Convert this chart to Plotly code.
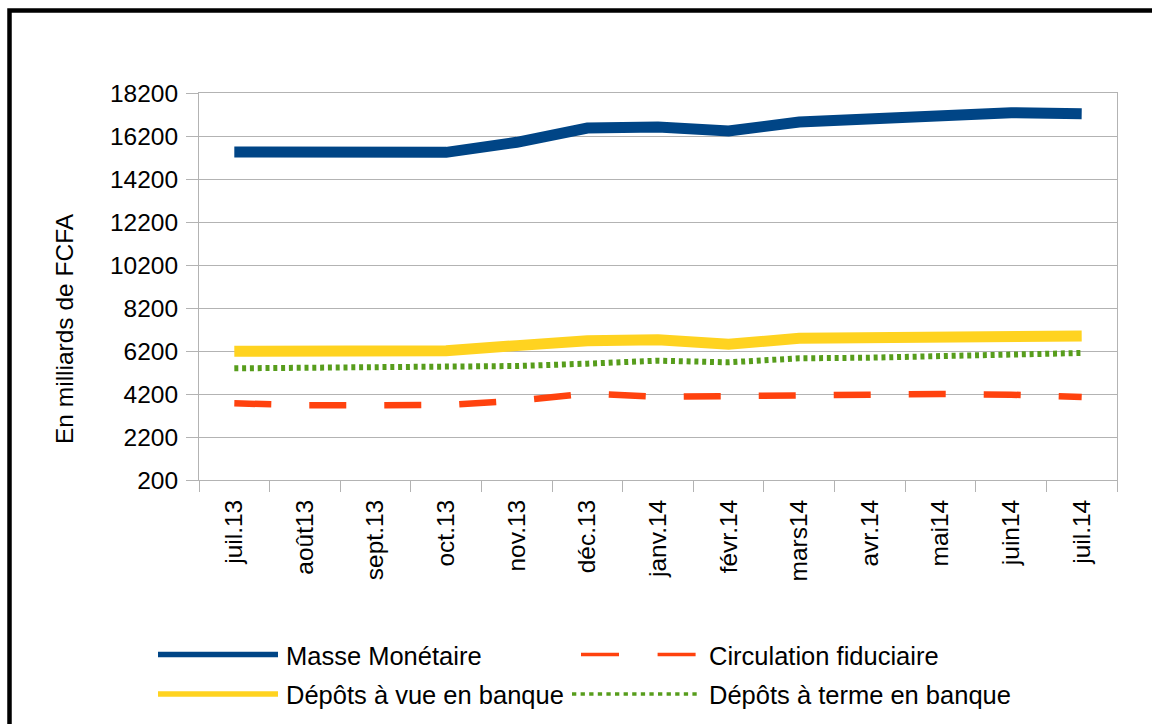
import plotly.graph_objects as go

months = ["juil.13", "août13", "sept.13", "oct.13", "nov.13", "déc.13", "janv.14",
          "févr.14", "mars14", "avr.14", "mai14", "juin14", "juil.14"]
masse_monetaire = [15456, 15425, 15440, 15440, 15906, 16572, 16619, 16433, 16851, 17022, 17192, 17285, 17239]
circulation_fiduciaire = [3767, 3673, 3673, 3690, 3890, 4216, 4070, 4123, 4130, 4170, 4200, 4170, 4061]
depots_vue = [6184, 6200, 6215, 6215, 6450, 6680, 6720, 6510, 6789, 6835, 6851, 6897, 6897]
depots_terme = [5394, 5410, 5425, 5440, 5502, 5611, 5750, 5673, 5859, 5890, 5967, 6045, 6107]
y_ticks = list(range(200, 18201, 2000))

BLUE = "#004586"
RED = "#ff420e"
YELLOW = "#ffd320"
GREEN = "#579d1c"
GRID = "#b3b3b3"
FONT = "Liberation Sans"
FS = 24.5
FS_LEG = 25.5

W, H = 1152, 724
L, R, T, B = 199, 35, 93, 244
PW = W - L - R
PH = H - T - B


def px(x):
    return (x - L) / PW


def py(y):
    return (H - B - y) / PH


fig = go.Figure()
fig.add_trace(go.Scatter(x=months, y=depots_vue, mode="lines",
                         line=dict(color=YELLOW, width=11), name="Dépôts à vue en banque"))
fig.add_trace(go.Scatter(x=months, y=depots_terme, mode="lines",
                         line=dict(color=GREEN, width=6, dash="4px,3.8px"), name="Dépôts à terme en banque"))
fig.add_trace(go.Scatter(x=months, y=circulation_fiduciaire, mode="lines",
                         line=dict(color=RED, width=6.5, dash="37px,38px"), name="Circulation fiduciaire"))
fig.add_trace(go.Scatter(x=months, y=masse_monetaire, mode="lines",
                         line=dict(color=BLUE, width=11), name="Masse Monétaire"))

shapes = []
annotations = []

# outer frame (top & left visible)
shapes.append(dict(type="path", xref="paper", yref="paper",
                   path=f"M {px(9.5)} {py(745)} L {px(9.5)} {py(10.5)} L {px(1175)} {py(10.5)}",
                   line=dict(color="black", width=4.5)))

# legend
legend_items = [
    ("Masse Monétaire", BLUE, 5.7, "solid", 158, 278, 284, 654.5),
    ("Circulation fiduciaire", RED, 3.7, "38px,38.6px", 581, 696, 706.5, 654.5),
    ("Dépôts à vue en banque", YELLOW, 5.7, "solid", 158, 278, 284, 694),
    ("Dépôts à terme en banque", GREEN, 3.3, "4.3px,4.3px", 572, 701, 706.5, 694),
]
for text, color, width, dash, x0, x1, tx, yy in legend_items:
    shapes.append(dict(type="line", xref="paper", yref="paper",
                       x0=px(x0), x1=px(x1), y0=py(yy), y1=py(yy),
                       line=dict(color=color, width=width, dash=dash)))
    annotations.append(dict(text=text, xref="paper", yref="paper", x=px(tx), y=py(yy + 1),
                            xanchor="left", yanchor="middle", showarrow=False,
                            font=dict(family=FONT, size=FS_LEG, color="black")))

# y-axis title
annotations.append(dict(text="En milliards de FCFA", xref="paper", yref="paper",
                        x=px(64), y=py(329), xanchor="center", yanchor="middle",
                        textangle=-90, showarrow=False,
                        font=dict(family=FONT, size=FS, color="black")))

fig.update_layout(
    width=W, height=H,
    margin=dict(l=L, r=R, t=T, b=B, pad=0),
    paper_bgcolor="white", plot_bgcolor="white",
    showlegend=False,
    font=dict(family=FONT, size=FS, color="black"),
    shapes=shapes, annotations=annotations,
)
fig.update_xaxes(type="category", range=[-0.5, 12.5], tickson="boundaries",
                 ticks="outside", ticklen=11, tickcolor=GRID, tickwidth=1,
                 showgrid=False, showline=True, linecolor=GRID, linewidth=1, mirror=True,
                 tickangle=-90, tickfont=dict(family=FONT, size=FS, color="black"),
                 ticklabelstandoff=9, fixedrange=True)
fig.update_yaxes(range=[200, 18200], tickvals=y_ticks, ticktext=[str(v) for v in y_ticks],
                 ticks="outside", ticklen=12, tickcolor=GRID, tickwidth=1,
                 showgrid=True, gridcolor=GRID, gridwidth=1, zeroline=False,
                 showline=True, linecolor=GRID, linewidth=1, mirror=True,
                 tickfont=dict(family=FONT, size=FS, color="black"),
                 ticklabelstandoff=3, fixedrange=True)

fig.write_html("out.html", config={"displayModeBar": False},
               post_script="document.body.style.margin='0';document.body.style.overflow='hidden';")
